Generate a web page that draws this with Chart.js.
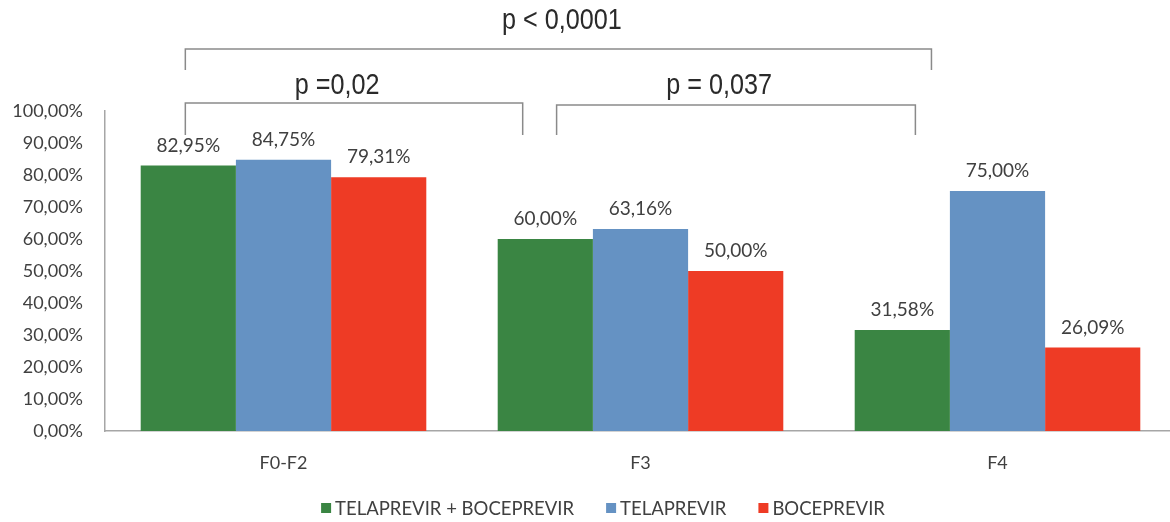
<!DOCTYPE html>
<html>
<head>
<meta charset="utf-8">
<script src="https://cdn.jsdelivr.net/npm/chart.js@4.4.1/dist/chart.umd.min.js"></script>
<style>
  html, body { margin: 0; padding: 0; background: #fff; overflow: hidden; }
  #wrap { width: 1176px; height: 522px; position: relative; }
</style>
</head>
<body>
<div id="wrap"><canvas id="chart"></canvas></div>
<script>
// Data
const categories = ['F0-F2', 'F3', 'F4'];
const seriesNames = ['TELAPREVIR + BOCEPREVIR', 'TELAPREVIR', 'BOCEPREVIR'];
const telaBoce = [82.95, 60.00, 31.58];
const tela = [84.75, 63.16, 75.00];
const boce = [79.31, 50.00, 26.09];
const seriesColors = ['#3a8543', '#6592c3', '#ee3b25'];

// p-value brackets, ends given in category units
const brackets = [
    { from: -0.275, to: 1.815, top: 49, drop: 21, label: 'p < 0,0001', labelX: 0.78, labelY: 21 },
    { from: -0.275, to: 0.67, top: 103, drop: 32, label: 'p =0,02', labelX: 0.15, labelY: 86 },
    { from: 0.765, to: 1.77, top: 105, drop: 30, label: 'p = 0,037', labelX: 1.22, labelY: 86 }
];

const fmt = v => v.toFixed(2).replace('.', ',') + '%';
const textColor = '#404040';

Chart.defaults.font.family = "Lato, 'Open Sans', sans-serif";
Chart.defaults.color = textColor;

// Value labels above bars
const valueLabels = {
    id: 'valueLabels',
    afterDatasetsDraw(chart) {
        const ctx = chart.ctx;
        ctx.save();
        ctx.font = "19px Lato, 'Open Sans', sans-serif";
        ctx.fillStyle = textColor;
        ctx.textAlign = 'center';
        ctx.textBaseline = 'alphabetic';
        chart.data.datasets.forEach((ds, i) => {
            chart.getDatasetMeta(i).data.forEach((bar, j) => {
                ctx.fillText(fmt(ds.data[j]), bar.x, bar.y - 14);
            });
        });
        ctx.restore();
    }
};

// Significance brackets
const sigBrackets = {
    id: 'sigBrackets',
    afterDraw(chart) {
        const ctx = chart.ctx;
        const x = chart.scales.x;
        ctx.save();
        ctx.strokeStyle = '#8a8a8a';
        ctx.lineWidth = 1.5;
        brackets.forEach(b => {
            const x1 = x.getPixelForValue(b.from);
            const x2 = x.getPixelForValue(b.to);
            ctx.beginPath();
            ctx.moveTo(x1, b.top + b.drop);
            ctx.lineTo(x1, b.top);
            ctx.lineTo(x2, b.top);
            ctx.lineTo(x2, b.top + b.drop);
            ctx.stroke();
            // narrow look: squeeze the text horizontally
            ctx.save();
            ctx.translate(x.getPixelForValue(b.labelX), b.labelY);
            ctx.scale(0.84, 1);
            ctx.font = "30px 'Liberation Sans', Arial, sans-serif";
            ctx.fillStyle = '#2a2a2a';
            ctx.textAlign = 'center';
            ctx.textBaseline = 'middle';
            ctx.fillText(b.label, 0, 0);
            ctx.restore();
        });
        ctx.restore();
    }
};

// Legend at the bottom
const bottomLegend = {
    id: 'bottomLegend',
    afterDraw(chart) {
        const ctx = chart.ctx;
        ctx.save();
        ctx.font = "18.5px Lato, 'Open Sans', sans-serif";
        ctx.textBaseline = 'middle';
        ctx.textAlign = 'left';
        const box = 10, gap = 4, spacing = 32, y = 509;
        const widths = chart.data.datasets.map(ds => box + gap + ctx.measureText(ds.label).width);
        const total = widths.reduce((a, b) => a + b, 0) + spacing * (widths.length - 1);
        let cx = 603 - total / 2;
        chart.data.datasets.forEach((ds, i) => {
            ctx.fillStyle = ds.backgroundColor;
            ctx.fillRect(cx, y - box / 2 - 1, box, box);
            ctx.fillStyle = textColor;
            ctx.fillText(ds.label, cx + box + gap, y);
            cx += widths[i] + spacing;
        });
        ctx.restore();
    }
};

const ctx = document.getElementById('chart').getContext('2d');
new Chart(ctx, {
    type: 'bar',
    data: {
        labels: categories,
        datasets: [telaBoce, tela, boce].map((d, i) => ({
            label: seriesNames[i],
            data: d,
            backgroundColor: seriesColors[i],
            borderWidth: 0,
            categoryPercentage: 0.8,
            barPercentage: 1.0
        }))
    },
    options: {
        responsive: true,
        maintainAspectRatio: false,
        animation: false,
        layout: { padding: { top: 111, right: 0, left: 0, bottom: 0 } },
        plugins: {
            legend: { display: false },
            tooltip: { enabled: false }
        },
        scales: {
            y: {
                min: 0,
                max: 100,
                ticks: {
                    stepSize: 10,
                    padding: 22,
                    font: { size: 18 },
                    color: textColor,
                    callback: v => fmt(v)
                },
                grid: { display: false, drawTicks: false },
                border: { display: true, color: '#a6a6a6', width: 1.5 },
                afterFit: s => { s.width = 105; }
            },
            x: {
                ticks: {
                    padding: 21,
                    font: { size: 18 },
                    color: textColor
                },
                grid: { display: false, drawTicks: false },
                border: { display: true, color: '#a6a6a6', width: 1.5 },
                afterFit: s => { s.height = 91; }
            }
        }
    },
    plugins: [valueLabels, sigBrackets, bottomLegend]
});
</script>
</body>
</html>
